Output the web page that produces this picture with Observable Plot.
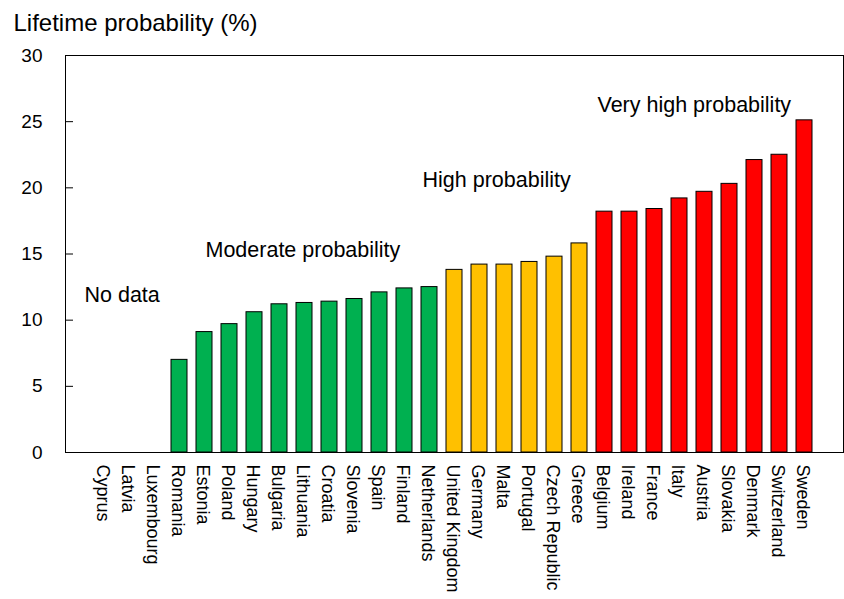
<!DOCTYPE html>
<html>
<head>
<meta charset="utf-8">
<script src="https://cdn.jsdelivr.net/npm/d3@7"></script>
<script src="https://cdn.jsdelivr.net/npm/@observablehq/plot@0.6"></script>
<style>
  html, body { margin: 0; padding: 0; background: #fff; }
  #chart svg { display: block; }
</style>
</head>
<body>
<div id="chart"></div>
<script>
const countries = ["Cyprus","Latvia","Luxembourg","Romania","Estonia","Poland","Hungary","Bulgaria","Lithuania","Croatia","Slovenia","Spain","Finland","Netherlands","United Kingdom","Germany","Malta","Portugal","Czech Republic","Greece","Belgium","Ireland","France","Italy","Austria","Slovakia","Denmark","Switzerland","Sweden"];
const values = [null,null,null,7.0,9.1,9.7,10.6,11.2,11.3,11.4,11.6,12.1,12.4,12.5,13.8,14.2,14.2,14.4,14.8,15.8,18.2,18.2,18.4,19.2,19.7,20.3,22.1,22.5,25.1];
const groups = ["No data","No data","No data","Moderate","Moderate","Moderate","Moderate","Moderate","Moderate","Moderate","Moderate","Moderate","Moderate","Moderate","High","High","High","High","High","High","Very high","Very high","Very high","Very high","Very high","Very high","Very high","Very high","Very high"];
const groupNames = ["Moderate","High","Very high"];
const groupColors = ["#00B050","#FFC000","#FF0000"];
const yTicks = [0,5,10,15,20,25,30];
const annLabels = ["No data","Moderate probability","High probability","Very high probability"];
const annX = ["Cyprus","Estonia","Netherlands","Belgium"];
const annY = [11.35,14.75,20.1,25.7];
const annDx = [-20,1,-7,-7];

const data = countries.map((c, i) => ({country: c, value: values[i], group: groups[i]}));
const bars = data.filter(d => d.value != null);
const anns = annLabels.map((t, i) => ({text: t, x: annX[i], y: annY[i], dx: annDx[i]}));

const font = "'Liberation Sans', Arial, Helvetica, sans-serif";

const chart = Plot.plot({
  width: 844,
  height: 599,
  marginLeft: 65,
  marginRight: 1,
  marginTop: 55,
  marginBottom: 147,
  style: {fontFamily: font, background: "#fff", color: "#000", overflow: "visible"},
  x: {domain: countries, paddingInner: 0.36, paddingOuter: 1.21, label: null},
  y: {domain: [0, 30], label: null},
  color: {domain: groupNames, range: groupColors},
  marks: [
    Plot.barY(bars, {x: "country", y: "value", fill: "group", stroke: "#000", strokeWidth: 1}),
    Plot.frame({stroke: "#000", strokeWidth: 1}),
    Plot.axisY({ticks: yTicks, tickSize: 8, dx: 8, fill: "none", stroke: "#000", label: null}),
    Plot.axisY({ticks: yTicks, tickSize: 0, tickPadding: 23, fontSize: 19, fill: "#000", label: null}),
    Plot.axisX({tickRotate: 90, tickSize: 0, tickPadding: 12, fontSize: 18, fill: "#000", label: null, dx: -2}),
    ...anns.map(a => Plot.text([a], {x: "x", y: "y", text: "text", dx: a.dx, textAnchor: "start", lineAnchor: "bottom", fontSize: 21.5, fill: "#000"})),
    Plot.text(["Lifetime probability (%)"], {frameAnchor: "top-left", dx: -52, dy: -25, lineAnchor: "bottom", textAnchor: "start", fontSize: 24, fill: "#000"})
  ]
});
document.getElementById("chart").appendChild(chart);
</script>
</body>
</html>
